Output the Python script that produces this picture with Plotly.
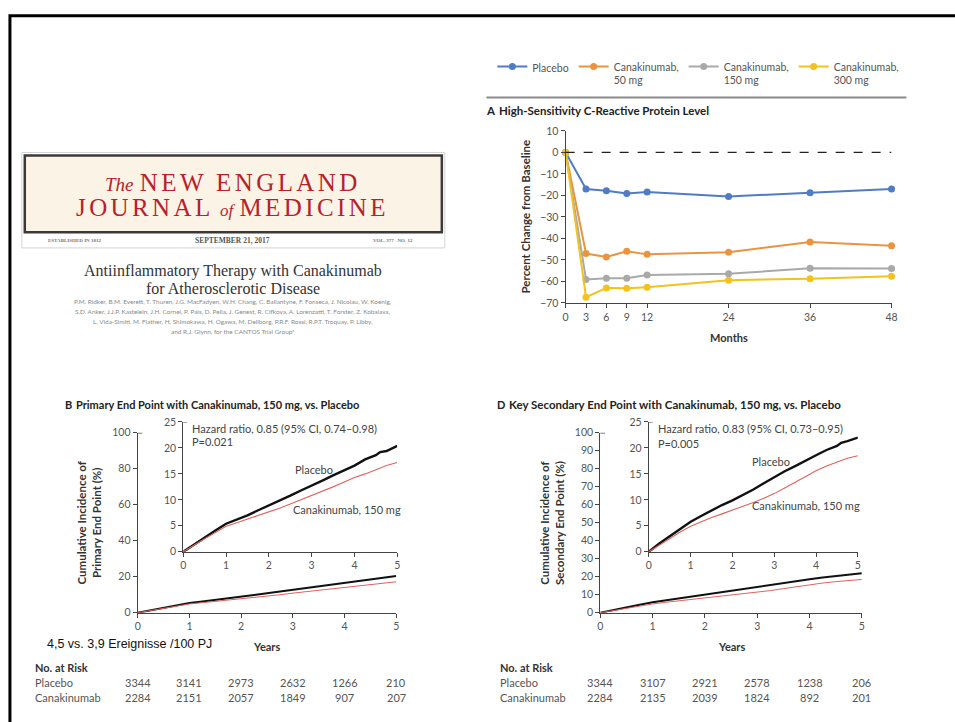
import plotly.graph_objects as go

W, H = 955, 722

# ---------------- Data ----------------
months = [0, 3, 6, 9, 12, 24, 36, 48]
crp_placebo = [0, -17.0, -17.8, -19.1, -18.4, -20.5, -18.7, -17.0]
crp_cana50 = [0, -47.0, -48.6, -46.0, -47.4, -46.4, -41.6, -43.4]
crp_cana150 = [0, -59.1, -58.5, -58.5, -57.0, -56.4, -53.9, -54.0]
crp_cana300 = [0, -67.3, -63.0, -63.2, -62.7, -59.4, -58.7, -57.6]
crp_names = ["Placebo", "Canakinumab,<br>50 mg", "Canakinumab,<br>150 mg", "Canakinumab,<br>300 mg"]
crp_colors = ["#4f7cc4", "#ea9440", "#a9a9a9", "#f3c21c"]
month_ticks = [0, 3, 6, 9, 12, 24, 36, 48]

years = [0, 0.25, 0.5, 0.75, 1, 1.25, 1.5, 1.75, 2, 2.25, 2.5, 2.75, 3, 3.25, 3.5, 3.75, 4, 4.25, 4.5, 4.6, 4.75, 5]
prim_placebo = [0, 1.4, 2.7, 4.1, 5.4, 6.2, 7.0, 8.0, 8.9, 9.8, 10.8, 11.8, 12.7, 13.7, 14.7, 15.6, 16.6, 17.8, 18.6, 19.2, 19.4, 20.4]
prim_cana = [0, 1.3, 2.5, 3.7, 4.9, 5.6, 6.3, 7.0, 7.6, 8.4, 9.2, 10.0, 10.9, 11.7, 12.5, 13.4, 14.3, 15.0, 15.8, 16.1, 16.6, 17.2]
sec_placebo = [0, 1.6, 3.0, 4.4, 5.8, 6.9, 8.0, 9.0, 9.9, 10.9, 12.0, 13.2, 14.4, 15.5, 16.5, 17.6, 18.6, 19.6, 20.4, 21.0, 21.3, 22.0]
sec_cana = [0, 1.3, 2.6, 3.8, 4.9, 5.8, 6.6, 7.3, 8.0, 8.7, 9.5, 10.3, 11.2, 12.3, 13.4, 14.5, 15.6, 16.5, 17.3, 17.6, 18.0, 18.5]
year_ticks = [0, 1, 2, 3, 4, 5]

risk_prim_placebo = [3344, 3141, 2973, 2632, 1266, 210]
risk_prim_cana = [2284, 2151, 2057, 1849, 907, 207]
risk_sec_placebo = [3344, 3107, 2921, 2578, 1238, 206]
risk_sec_cana = [2284, 2135, 2039, 1824, 892, 201]

SANS = "Lato, 'Open Sans', sans-serif"
SERIF = "'Liberation Serif', 'DejaVu Serif', serif"
TICKC = "#555555"
AXC = "#444444"


def px(x):
    return x / W


def py(y):
    return 1 - y / H


fig = go.Figure()

# Panel A
for vals, name, col in zip([crp_placebo, crp_cana50, crp_cana150, crp_cana300], crp_names, crp_colors):
    fig.add_trace(go.Scatter(x=months, y=vals, name=name, mode="lines+markers",
                             line=dict(color=col, width=2), marker=dict(color=col, size=7),
                             cliponaxis=False, xaxis="x", yaxis="y"))

# Panel B main + inset, Panel D main + inset
for xa, ya, pl, ca, wb, wr in [("x2", "y2", prim_placebo, prim_cana, 2.0, 1.0),
                               ("x3", "y3", prim_placebo, prim_cana, 2.4, 1.1),
                               ("x4", "y4", sec_placebo, sec_cana, 2.0, 1.0),
                               ("x5", "y5", sec_placebo, sec_cana, 2.4, 1.1)]:
    fig.add_trace(go.Scatter(x=years, y=pl, mode="lines", line=dict(color="#111111", width=wb),
                             showlegend=False, xaxis=xa, yaxis=ya, cliponaxis=False))
    fig.add_trace(go.Scatter(x=years, y=ca, mode="lines", line=dict(color="#e0625c", width=wr),
                             showlegend=False, xaxis=xa, yaxis=ya, cliponaxis=False))


def axis(domain, anchor, **kw):
    d = dict(domain=domain, anchor=anchor, showgrid=False, zeroline=False, showline=True,
             linecolor=AXC, linewidth=1.2, ticks="outside", ticklen=4, tickcolor=AXC,
             tickfont=dict(family=SANS, size=10.5, color=TICKC))
    d.update(kw)
    return d


layout = dict(
    width=W, height=H, margin=dict(l=0, r=0, t=0, b=0),
    paper_bgcolor="white", plot_bgcolor="rgba(0,0,0,0)",
    font=dict(family=SANS, color="#333333"),
    showlegend=True,
    legend=dict(orientation="h", x=px(494), xanchor="left", y=py(48), yanchor="top",
                font=dict(family=SANS, size=10.5, color="#555555"), valign="top",
                bgcolor="rgba(0,0,0,0)", itemclick=False),
)

# Panel A axes
layout["xaxis"] = axis([px(568), px(897)], "y", range=[0, 48], tickvals=month_ticks)
layout["yaxis"] = axis([py(302), py(127)], "x", range=[-70, 10], tickvals=list(range(-70, 11, 10)))
# Panel B main
layout["xaxis2"] = axis([px(136), px(397)], "y2", range=[0, 5], tickvals=year_ticks)
layout["yaxis2"] = axis([py(617), py(434)], "x2", range=[0, 100], tickvals=list(range(0, 101, 20)))
# Panel B inset
layout["xaxis3"] = axis([px(182), px(398)], "y3", range=[0, 5], tickvals=year_ticks)
layout["yaxis3"] = axis([py(555), py(423)], "x3", range=[0, 25], tickvals=list(range(0, 26, 5)))
# Panel D main
layout["xaxis4"] = axis([px(603), px(867)], "y4", range=[0, 5], tickvals=year_ticks)
layout["yaxis4"] = axis([py(617), py(434)], "x4", range=[0, 100], tickvals=list(range(0, 101, 10)))
# Panel D inset
layout["xaxis5"] = axis([px(652), px(863)], "y5", range=[0, 5], tickvals=year_ticks)
layout["yaxis5"] = axis([py(555), py(423)], "x5", range=[0, 25], tickvals=list(range(0, 26, 5)))

fig.update_layout(**layout)

shapes = []
# slide frame
shapes.append(dict(type="rect", xref="paper", yref="paper", x0=px(7), x1=px(1000), y0=py(760), y1=py(10),
                   line=dict(color="black", width=3), fillcolor="rgba(0,0,0,0)"))
# NEJM masthead
shapes.append(dict(type="rect", xref="paper", yref="paper", x0=px(19), x1=px(446), y0=py(246), y1=py(149),
                   line=dict(color="#d4d4d4", width=1), fillcolor="rgba(0,0,0,0)"))
shapes.append(dict(type="rect", xref="paper", yref="paper", x0=px(22), x1=px(443), y0=py(230), y1=py(152),
                   line=dict(color="#3a3a3a", width=2.5), fillcolor="#fbf4e6"))
# separator under legend
shapes.append(dict(type="line", xref="paper", yref="paper", x0=px(488), x1=px(912), y0=py(93), y1=py(93),
                   line=dict(color="#8a8a8a", width=2)))
# dashed zero reference
shapes.append(dict(type="line", xref="x", yref="y", x0=0, x1=48, y0=0, y1=0,
                   line=dict(color="#222222", width=1.2, dash="dash")))
# small hooks at the top of the Kaplan-Meier y axes
for xa, ya, top in [("x2", "y2", 100), ("x3", "y3", 25), ("x4", "y4", 100), ("x5", "y5", 25)]:
    shapes.append(dict(type="line", xref=xa + " domain", yref=ya, x0=0, x1=0.018, y0=top, y1=top,
                       line=dict(color=AXC, width=1.2)))
fig.update_layout(shapes=shapes)

anns = []


def ann(text, x, y, size=10, color="#333333", family=SANS, xanchor="left", yanchor="middle", angle=0, align="left"):
    anns.append(dict(text=text, x=px(x), y=py(y), xref="paper", yref="paper", showarrow=False,
                     xanchor=xanchor, yanchor=yanchor, textangle=angle, align=align,
                     font=dict(family=family, size=size, color=color)))


RED = "#b8202c"
ann("<i><span style='font-size:19px'>The</span></i> <span style='letter-spacing:3.4px'>NEW ENGLAND</span>",
    232, 179, size=25, color=RED, family=SERIF, xanchor="center")
ann("<span style='letter-spacing:3.4px'>JOURNAL</span> <i><span style='font-size:17px'>of</span></i> <span style='letter-spacing:3.4px'>MEDICINE</span>",
    232, 205, size=25, color=RED, family=SERIF, xanchor="center")
ann("<b>ESTABLISHED IN 1812</b>", 72, 238, size=5, color="#777777", family=SERIF, xanchor="center")
ann("<b>SEPTEMBER 21, 2017</b>", 232, 238, size=7.5, color="#555555", family=SERIF, xanchor="center")
ann("<b>VOL. 377 &nbsp; NO. 12</b>", 394, 238, size=5, color="#777777", family=SERIF, xanchor="center")
ann("Antiinflammatory Therapy with Canakinumab", 232, 269, size=16, color="#333333", family=SERIF, xanchor="center")
ann("for Atherosclerotic Disease", 232, 287, size=16, color="#333333", family=SERIF, xanchor="center")
authors = [
    "P.M. Ridker, B.M. Everett, T. Thuren, J.G. MacFadyen, W.H. Chang, C. Ballantyne, F. Fonseca, J. Nicolau, W. Koenig,",
    "S.D. Anker, J.J.P. Kastelein, J.H. Cornel, P. Pais, D. Pella, J. Genest, R. Cifkova, A. Lorenzatti, T. Forster, Z. Kobalava,",
    "L. Vida-Simiti, M. Flather, H. Shimokawa, H. Ogawa, M. Dellborg, P.R.F. Rossi, R.P.T. Troquay, P. Libby,",
    "and R.J. Glynn, for the CANTOS Trial Group*",
]
for i, line in enumerate(authors):
    ann(line, 232, 301 + 10 * i, size=6.4, color="#8a8a8a", xanchor="center")

# Panel A texts
ann("<b>A</b>", 486, 106, size=11.5, color="#222222")
ann("<b>High-Sensitivity C-Reactive Protein Level</b>", 499, 106, size=11.5, color="#222222")
ann("<b>Percent Change from Baseline</b>", 527, 214, size=11.5, color="#333333", xanchor="center", angle=-90)
ann("<b>Months</b>", 733, 337, size=11, color="#333333", xanchor="center")

# Panel B texts
ann("<b>B</b>", 61, 405, size=11, color="#222222")
ann("<b>Primary End Point with Canakinumab, 150 mg, vs. Placebo</b>", 72, 405, size=11, color="#222222")
ann("<b>Cumulative Incidence of<br>Primary End Point (%)</b>", 87, 525, size=11.5, color="#333333",
    xanchor="center", angle=-90, align="center")
ann("Hazard ratio, 0.85 (95% CI, 0.74–0.98)", 189, 430, size=11, color="#444444")
ann("P=0.021", 189, 443, size=11, color="#444444")
ann("Placebo", 293, 471, size=11, color="#444444")
ann("Canakinumab, 150 mg", 291, 512, size=11, color="#444444")
ann("<b>Years</b>", 266, 651, size=11, color="#333333", xanchor="center")

# Panel D texts
ann("<b>D</b>", 497, 405, size=11, color="#222222")
ann("<b>Key Secondary End Point with Canakinumab, 150 mg, vs. Placebo</b>", 509, 405, size=11.5, color="#222222")
ann("<b>Cumulative Incidence of<br>Secondary End Point (%)</b>", 555, 525, size=11.5, color="#333333",
    xanchor="center", angle=-90, align="center")
ann("Hazard ratio, 0.83 (95% CI, 0.73–0.95)", 659, 430, size=11, color="#444444")
ann("P=0.005", 659, 445, size=11, color="#444444")
ann("Placebo", 754, 463, size=11, color="#444444")
ann("Canakinumab, 150 mg", 754, 508, size=11, color="#444444")
ann("<b>Years</b>", 735, 651, size=11, color="#333333", xanchor="center")

ann("4,5 vs. 3,9 Ereignisse /100 PJ", 42, 649, size=12.5, color="#111111",
    family="'Liberation Sans', Arial, sans-serif")

# Number at risk tables
for xl, xa, rp, rc in [(30, "x2", risk_prim_placebo, risk_prim_cana), (500, "x4", risk_sec_placebo, risk_sec_cana)]:
    ann("<b>No. at Risk</b>", xl, 673, size=11, color="#333333")
    ann("Placebo", xl, 688, size=11, color="#555555")
    ann("Canakinumab", xl, 703, size=11, color="#555555")
    for t, a, b in zip(year_ticks, rp, rc):
        anns.append(dict(text=str(a), x=t, y=py(688), xref=xa, yref="paper", showarrow=False,
                         xanchor="center", yanchor="middle", font=dict(family=SANS, size=11, color="#555555")))
        anns.append(dict(text=str(b), x=t, y=py(703), xref=xa, yref="paper", showarrow=False,
                         xanchor="center", yanchor="middle", font=dict(family=SANS, size=11, color="#555555")))

fig.update_layout(annotations=anns)
fig.write_html("out.html", config={"displayModeBar": False},
               post_script="document.body.style.margin='0';document.body.style.padding='0';"
                           "document.documentElement.style.overflow='hidden';")
